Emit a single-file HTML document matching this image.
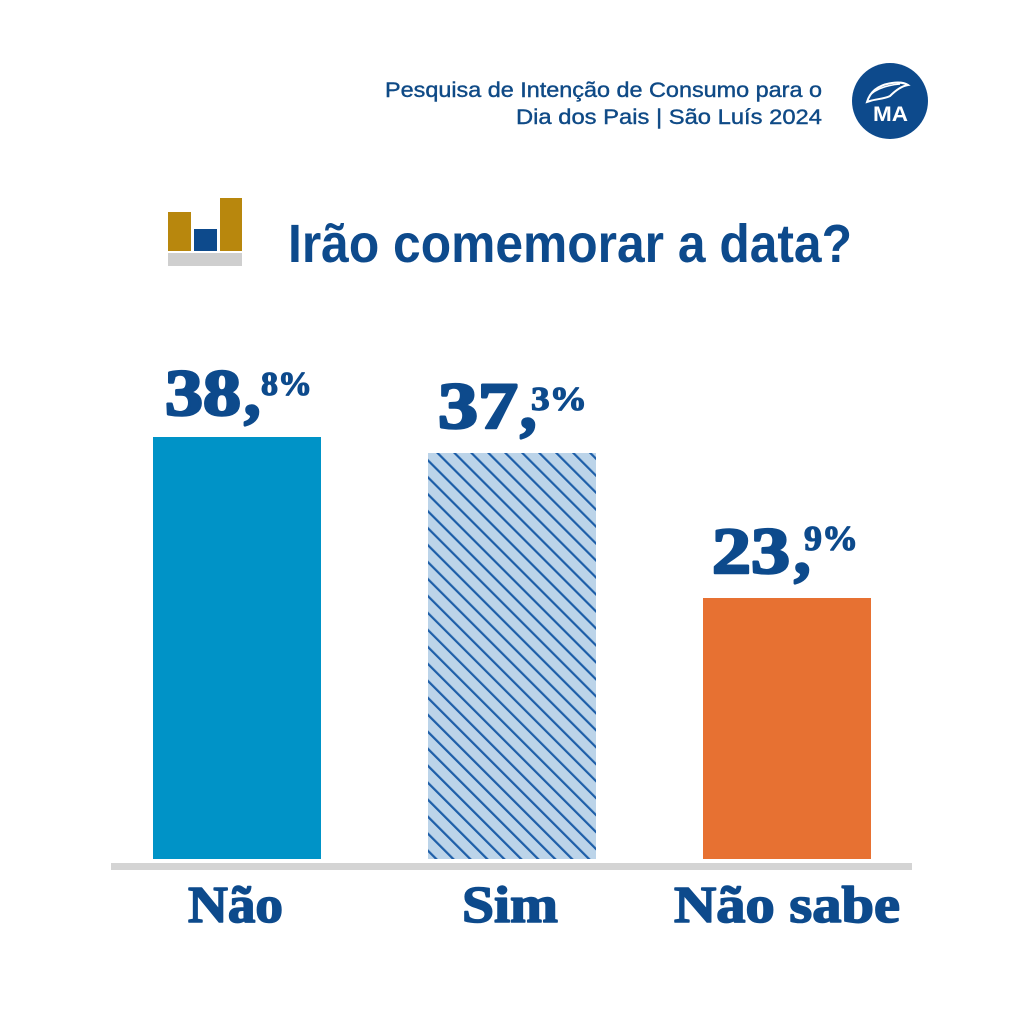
<!DOCTYPE html>
<html>
<head>
<meta charset="utf-8">
<style>
  html, body { margin:0; padding:0; background:#ffffff; }
  body { width:1024px; height:1024px; overflow:hidden; }
  svg { display:block; }
</style>
</head>
<body>
<svg width="1024" height="1024" viewBox="0 0 1024 1024" xmlns="http://www.w3.org/2000/svg">
  <defs>
    <pattern id="hatch" patternUnits="userSpaceOnUse" width="12" height="12" patternTransform="rotate(-45)">
      <rect x="0" y="0" width="12" height="12" fill="#bcd4e9"/>
      <rect x="0" y="0" width="2.2" height="12" fill="#1d5ea8"/>
    </pattern>
  </defs>
  <rect x="0" y="0" width="1024" height="1024" fill="#ffffff"/>

  <!-- Subtitle -->
  <g font-family="'Liberation Sans', 'DejaVu Sans', sans-serif" font-size="21" fill="#0f4a86" stroke="#0f4a86" stroke-width="0.4" text-anchor="end">
    <text x="822" y="97" textLength="437" lengthAdjust="spacingAndGlyphs">Pesquisa de Intenção de Consumo para o</text>
    <text x="822" y="124" textLength="306" lengthAdjust="spacingAndGlyphs">Dia dos Pais | São Luís 2024</text>
  </g>

  <!-- Logo -->
  <circle cx="890" cy="101" r="38" fill="#0d4a8c"/>
  <path d="M867 102 C870 92 878 85 892 83 C899 82 905 83 908 85 C902 86 896 90 890 96 C884 99 876 99 870 101 Z" fill="none" stroke="#ffffff" stroke-width="2"/>
  <path d="M871 94 C878 88 888 85 900 84" fill="none" stroke="#ffffff" stroke-width="1.6"/>
  <text x="890.5" y="121" font-family="'Liberation Sans', sans-serif" font-weight="bold" font-size="21" fill="#ffffff" text-anchor="middle" textLength="35" lengthAdjust="spacingAndGlyphs">MA</text>

  <!-- Title icon -->
  <rect x="168" y="212" width="23" height="39" fill="#b8870d"/>
  <rect x="194" y="229" width="23" height="22" fill="#0d4a8c"/>
  <rect x="220" y="198" width="22" height="53" fill="#b8870d"/>
  <rect x="168" y="253" width="74" height="13" fill="#cfcfcf"/>

  <!-- Title -->
  <text x="288" y="262" font-family="'Liberation Sans', sans-serif" font-weight="bold" font-size="54" fill="#0d4a8c" textLength="564" lengthAdjust="spacingAndGlyphs">Irão comemorar a data?</text>

  <!-- Bars -->
  <rect x="153" y="437" width="168" height="422" fill="#0093c7"/>
  <rect x="428" y="453" width="168" height="406" fill="url(#hatch)"/>
  <rect x="703" y="598" width="168" height="261" fill="#e77132"/>

  <!-- Baseline -->
  <rect x="111" y="863" width="801" height="7" fill="#d4d4d4"/>

  <!-- Value labels -->
  <g font-family="'Liberation Serif', 'DejaVu Serif', serif" font-weight="bold" fill="#0d4a8c" stroke="#0d4a8c" stroke-width="2.6" stroke-linejoin="round">
    <text x="165" y="415" font-size="66" textLength="76" lengthAdjust="spacingAndGlyphs">38</text>
    <text x="244" y="415" font-size="66">,</text>
    <text x="261" y="395" font-size="34" stroke-width="1.2" textLength="51" lengthAdjust="spacingAndGlyphs">8%</text>

    <text x="438" y="428" font-size="66" textLength="80" lengthAdjust="spacingAndGlyphs">37</text>
    <text x="520" y="428" font-size="66">,</text>
    <text x="531" y="410" font-size="34" stroke-width="1.2" textLength="56" lengthAdjust="spacingAndGlyphs">3%</text>

    <text x="712" y="573" font-size="66" textLength="78" lengthAdjust="spacingAndGlyphs">23</text>
    <text x="794" y="573" font-size="66">,</text>
    <text x="804" y="550" font-size="35" stroke-width="1.2" textLength="54" lengthAdjust="spacingAndGlyphs">9%</text>
  </g>

  <!-- Category labels -->
  <g font-family="'Liberation Serif', 'DejaVu Serif', serif" font-weight="bold" font-size="52" fill="#0d4a8c" stroke="#0d4a8c" stroke-width="1.6" stroke-linejoin="round">
    <text x="188" y="922" textLength="95" lengthAdjust="spacingAndGlyphs">Não</text>
    <text x="462" y="922" textLength="96" lengthAdjust="spacingAndGlyphs">Sim</text>
    <text x="674" y="922" textLength="226" lengthAdjust="spacingAndGlyphs">Não sabe</text>
  </g>
</svg>
</body>
</html>
